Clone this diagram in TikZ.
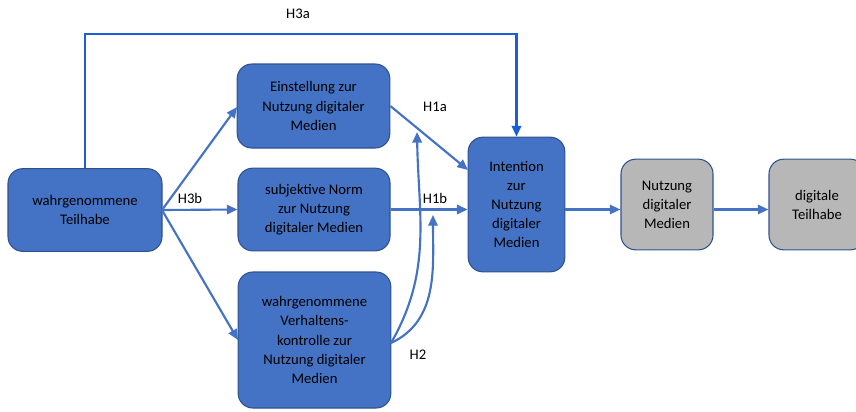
\documentclass[tikz,border=0pt]{standalone}
\usepackage{fontspec}
\setmainfont{Carlito}
\usetikzlibrary{arrows.meta}
\definecolor{boxblue}{HTML}{4472C4}
\definecolor{boxedge}{HTML}{2F528F}
\definecolor{boxgray}{HTML}{B7B7B7}
\definecolor{linkblue}{HTML}{4472C4}
\definecolor{topblue}{HTML}{1A5FD6}
\tikzset{
  bluebox/.style={draw=boxedge, fill=boxblue, rounded corners=11pt, line width=0.8pt,
    align=center, inner sep=0pt, font=\fontsize{11}{14.3}\selectfont},
  graybox/.style={bluebox, fill=boxgray},
  link/.style={draw=linkblue, line width=1.6pt, -{Triangle[length=8pt,width=7pt]}},
  toplink/.style={draw=topblue, line width=1.7pt, -{Triangle[length=8pt,width=7pt]}},
  lbl/.style={font=\fontsize{11}{13}\selectfont, inner sep=0pt}
}
\begin{document}
\begin{tikzpicture}[x=0.75pt,y=-0.75pt]
\useasboundingbox (0,0) rectangle (856,411);
\begin{scope}
\clip (0,0) rectangle (856,411);
\node[bluebox, minimum width=115.5pt, minimum height=62pt] (A) at (85,210) {wahrgenommene\\Teilhabe};
\node[bluebox, minimum width=114.5pt, minimum height=63pt] (E) at (313.5,106) {Einstellung zur\\Nutzung digitaler\\Medien};
\node[bluebox, minimum width=114pt, minimum height=62pt] (N) at (314,209.5) {subjektive Norm\\zur Nutzung\\digitaler Medien};
\node[bluebox, minimum width=114.5pt, minimum height=102pt] (V) at (314.5,340) {wahrgenommene\\Verhaltens-\\kontrolle zur\\Nutzung digitaler\\Medien};
\node[bluebox, minimum width=72.5pt, minimum height=101pt] (I) at (516.5,204.5) {Intention\\zur\\Nutzung\\digitaler\\Medien};
\node[graybox, minimum width=69pt, minimum height=68pt] (U) at (667,204.5) {Nutzung\\digitaler\\Medien};
\node[graybox, minimum width=72pt, minimum height=68pt] (T) at (817,204.5) {digitale\\Teilhabe};
\end{scope}

\coordinate (a1) at (162,210);
\coordinate (c1) at (85,34);
\coordinate (c2) at (516.5,34);
\coordinate (e1) at (237,107);
\coordinate (v1) at (238,340);
\coordinate (i1) at (468,170);
\coordinate (h2a) at (417,132);
\coordinate (h2b) at (433,215);
\coordinate (vs) at (391,343);

\draw[toplink] (A.north) -- (c1) -- (c2) -- (I.north);
\draw[link] (a1) -- (e1);
\draw[link] (a1) -- (N.west);
\draw[link] (a1) -- (v1);
\draw[link] (E.east) -- (i1);
\draw[link] (N.east) -- (I.west |- N.east);
\draw[link] (vs) to[out=60,in=-89] (h2a);
\draw[link] (vs) to[out=25,in=-90] (h2b);
\draw[link] (I.east |- N.east) -- (U.west |- N.east);
\draw[link] (U.east |- N.east) -- (T.west |- N.east);

\node[lbl] (l3a) at (298,14) {H3a};
\node[lbl] (l3b) at (190,198) {H3b};
\node[lbl] (l1a) at (435,107) {H1a};
\node[lbl] (l1b) at (435,198) {H1b};
\node[lbl] (l2) at (418,355) {H2};
\end{tikzpicture}
\end{document}
